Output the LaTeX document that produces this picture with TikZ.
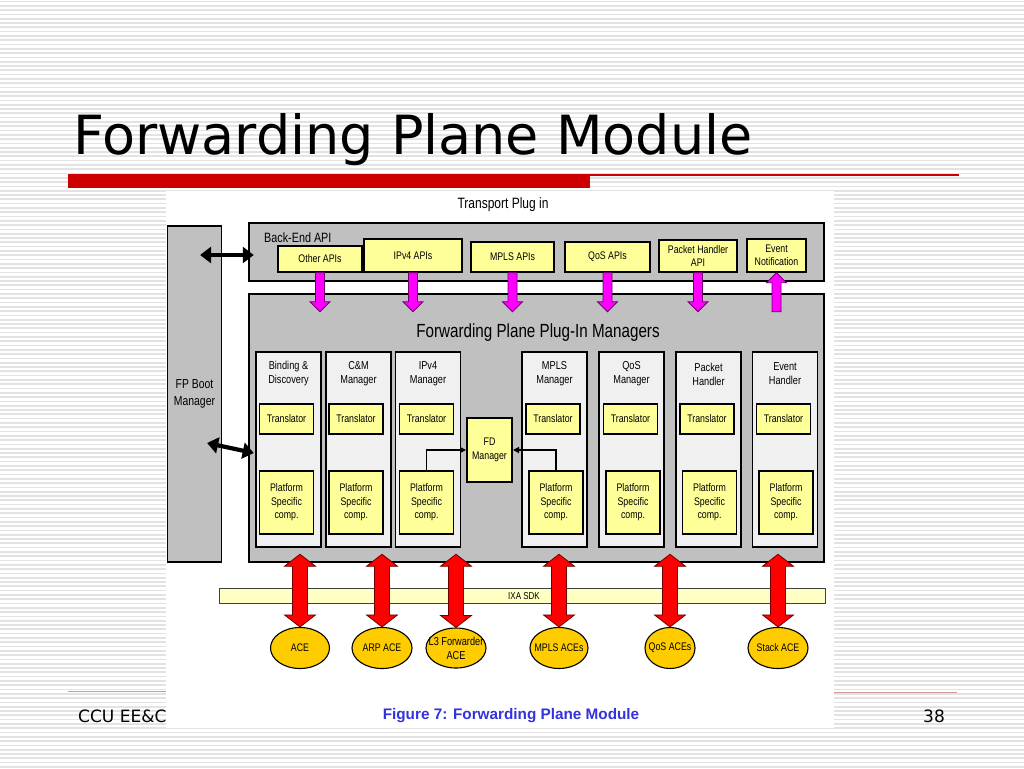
\documentclass[tikz,border=0pt]{standalone}
\usepackage{fontspec}
\setmainfont{DejaVu Sans}
\newfontfamily\dfont{Liberation Sans}[FakeStretch=0.8]
\newfontfamily\cfont{Liberation Sans}
\usetikzlibrary{arrows.meta,calc,shapes.geometric}
\definecolor{ygold}{RGB}{255,204,0}
\definecolor{lyel}{RGB}{255,255,153}
\definecolor{pyel}{RGB}{255,255,196}
\definecolor{bgray}{RGB}{192,192,192}
\definecolor{cgray}{RGB}{240,240,240}
\definecolor{capblue}{RGB}{51,51,221}
\definecolor{slred}{RGB}{204,0,0}
\definecolor{footred}{RGB}{210,150,150}
\definecolor{magfill}{RGB}{255,0,255}
\definecolor{magline}{RGB}{110,0,110}
\definecolor{redfill}{RGB}{255,0,0}
\definecolor{redline}{RGB}{110,0,0}
\newcommand\magarr[2]{\filldraw[magarrow] let \p1=(#1), \p2=(#2), \p3=($(#2)!10pt!(#1)$) in (\x1-4.5pt,\y1) -- (\x1-4.5pt,\y3) -- (\x1-10pt,\y3) -- (\x2,\y2) -- (\x1+10pt,\y3) -- (\x1+4.5pt,\y3) -- (\x1+4.5pt,\y1) -- cycle;}
\newcommand\redarr[2]{\filldraw[redarrow] let \p1=(#1), \p2=(#2), \p3=($(#1)!12pt!(#2)$), \p4=($(#2)!12pt!(#1)$) in (\x1,\y1) -- (\x1+15.5pt,\y3) -- (\x1+7.5pt,\y3) -- (\x1+7.5pt,\y4) -- (\x1+15.5pt,\y4) -- (\x2,\y2) -- (\x1-15.5pt,\y4) -- (\x1-7.5pt,\y4) -- (\x1-7.5pt,\y3) -- (\x1-15.5pt,\y3) -- cycle;}
\begin{document}
\begin{tikzpicture}[x=1pt,y=-1pt,
  bgline/.style={draw=gray!22, line width=1.7},
  dtext/.style={font=\dfont\fontsize{11}{13.5}\selectfont, text=black, align=center, inner sep=0},
  bigbox/.style={draw=black, line width=2.5, fill=bgray},
  colbox/.style={draw=black, line width=1.3, fill=cgray},
  ybox/.style={draw=black, line width=1.4, fill=lyel, dtext},
  acestyle/.style={ellipse, draw=black, line width=1.1, fill=ygold, inner sep=0},
  conn/.style={draw=black, line width=1.2, -{Triangle[length=6pt,width=6pt]}},
  blkdbl/.style={draw=black, line width=4.2, {Triangle[length=11pt,width=16pt]}-{Triangle[length=11pt,width=16pt]}},
  magarrow/.style={fill=magfill, draw=magline, line width=0.8},
  redarrow/.style={fill=redfill, draw=redline, line width=0.8},
]
\useasboundingbox (0,0) rectangle (1024,768);
\fill[white] (0,0) rectangle (1024,768);
\foreach \k in {0,...,178} {\draw[bgline] (0,{1.5+\k*4.3}) -- (1024,{1.5+\k*4.3});}
% title
\node[anchor=base west, inner sep=0, font=\fontsize{54}{60}\selectfont] (title) at (73,154) {Forwarding Plane Module};
\fill[slred] (68,174) rectangle (590,188);
\draw[slred, line width=1.2] (590,175) -- (959,175);
% footer lines
\draw[footred, line width=1] (68,691) -- (166,691);
\draw[footred, line width=1] (834,692) -- (957,692);
\node[anchor=base west, inner sep=0, font=\fontsize{17}{20}\selectfont] (foot) at (78,722) {CCU EE\&C};
\node[anchor=base west, inner sep=0, font=\fontsize{17}{20}\selectfont] (pagenum) at (923,722) {38};
% figure area
\fill[white] (166,191) rectangle (834,728);
\node[dtext, font=\dfont\fontsize{15}{18}\selectfont, anchor=base] (transport) at (503,208) {Transport Plug in};
\node[draw=black, line width=1.2, fill=bgray, minimum width=54, minimum height=336, dtext, font=\dfont\fontsize{13}{17}\selectfont] (fpboot) at (194.5,394) {FP Boot\\Manager};
\node[bigbox, minimum width=575, minimum height=58] (backend) at (536.5,252) {};
\node[dtext, font=\dfont\fontsize{13.5}{16}\selectfont, anchor=base west] (belabel) at (264,242) {Back-End API};
\node[bigbox, minimum width=575, minimum height=268] (fpm) at (536.5,428) {};
\node[dtext, font=\dfont\fontsize{19}{22}\selectfont, anchor=base] (fpmlabel) at (538,337) {Forwarding Plane Plug-In Managers};
% APIs
\node[ybox, minimum width=84, minimum height=26] (otherapi) at (320,259) {Other APIs};
\node[ybox, minimum width=98, minimum height=33] (ipv4api) at (413,255.5) {IPv4 APIs};
\node[ybox, minimum width=83, minimum height=30] (mplsapi) at (512.5,257) {MPLS APIs};
\node[ybox, minimum width=85, minimum height=30] (qosapi) at (607.5,257) {QoS APIs};
\node[ybox, minimum width=78, minimum height=32] (pktapi) at (698,256) {Packet Handler\\API};
\node[ybox, minimum width=59, minimum height=33] (evtapi) at (776.5,255.5) {Event\\Notification};
% managers
\foreach \nm/\cx/\tx/\px/\ttl in {bind/288.5/286.5/286.5/{Binding \&\\Discovery}, cm/358.5/356/356/{C\&M\\Manager}, ipv4/428/426.5/426.5/{IPv4\\Manager}, mpls/554.5/553/556/{MPLS\\Manager}, qos/631.5/630.5/633/{QoS\\Manager}, pkt/708.5/707/709.5/{Packet\\Handler}, evt/785/783.5/786/{Event\\Handler}} {
  \node[colbox, minimum width=65, minimum height=195] (\nm-col) at (\cx,449.5) {};
  \node[dtext, font=\dfont\fontsize{11.5}{14}\selectfont] (\nm-title) at (\cx,374) {\ttl};
  \node[ybox, minimum width=54, minimum height=30] (\nm-tr) at (\tx,419) {Translator};
  \node[ybox, minimum width=54, minimum height=63] (\nm-plat) at (\px,502.5) {Platform\\Specific\\comp.};
}
\node[ybox, line width=2, minimum width=45, minimum height=64] (fd) at (489.5,450) {FD\\Manager};
\draw[conn] (ipv4-plat.north) |- (fd.west);
\draw[conn] (mpls-plat.north) |- (fd.east);
% magenta arrows
\foreach \a in {otherapi,ipv4api,mplsapi,qosapi,pktapi} {
  \coordinate (\a-tip) at ($(\a.south |- fpm.north)+(0,19)$);
  \magarr{\a.south}{\a-tip}
}
\coordinate (evt-tail) at ($(evtapi.south |- fpm.north)+(0,19)$);
\magarr{evt-tail}{evtapi.south}
% black double arrows
\coordinate (ba1) at ($(fpboot.east)+(-22,-139)$);
\coordinate (ba2) at ($(backend.west)+(6,3)$);
\draw[blkdbl] (ba1) -- (ba2);
\coordinate (bb1) at ($(fpboot.east)+(-15,49)$);
\coordinate (bb2) at ($(fpm.west)+(6,25)$);
\draw[blkdbl] (bb1) -- (bb2);
% IXA SDK
\node[draw=black!75, line width=1, fill=pyel, minimum width=606, minimum height=15] (ixa) at (522,595.5) {};
\node[dtext, font=\dfont\fontsize{10}{12}\selectfont] (ixatext) at (524,596) {IXA SDK};
% ACEs
\node[acestyle, minimum width=59, minimum height=41, label={[dtext]center:ACE}] (ace1) at (300,648) {};
\node[acestyle, minimum width=60, minimum height=41, label={[dtext]center:ARP ACE}] (ace2) at (382,648) {};
\node[acestyle, minimum width=60, minimum height=40, label={[dtext, font=\dfont\fontsize{11.5}{14}\selectfont]center:{L3 Forwarder\\ACE}}] (ace3) at (456,648) {};
\node[acestyle, minimum width=58, minimum height=41, label={[dtext]center:MPLS ACEs}] (ace4) at (559,648) {};
\node[acestyle, minimum width=50, minimum height=41, label={[dtext]center:QoS ACEs}] (ace5) at (670,648) {};
\node[acestyle, minimum width=60, minimum height=41, label={[dtext]center:Stack ACE}] (ace6) at (778,648) {};
\foreach \e in {ace1,ace2,ace3,ace4,ace5,ace6} {
  \coordinate (\e-top) at ($(\e.north |- fpm.south)+(0,-9)$);
  \redarr{\e-top}{\e.north}
}
% caption
\node[anchor=base, inner sep=0, text=capblue, font=\cfont\bfseries\fontsize{15.3}{18}\selectfont] (caption) at (511,719) {Figure 7: Forwarding Plane Module};
\end{tikzpicture}
\end{document}
